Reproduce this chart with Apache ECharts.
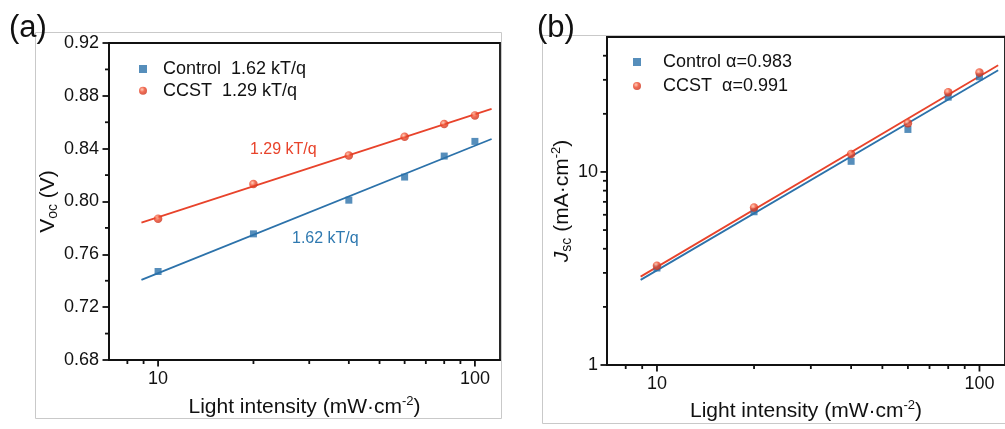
<!DOCTYPE html>
<html>
<head>
<meta charset="utf-8">
<title>Light intensity dependence of Voc and Jsc</title>
<script src="https://cdn.jsdelivr.net/npm/echarts@6/dist/echarts.min.js"></script>
<style>
  html, body { margin: 0; padding: 0; background: #fff; }
  #chart { width: 1005px; height: 429px; }
</style>
</head>
<body>
<div id="chart"></div>
<script>
// Light intensity steps (mW·cm^-2)
const lightIntensity = [10, 20, 40, 60, 80, 100];

// (a) open-circuit voltage (V)
const vocControl = [0.747, 0.7755, 0.801, 0.8185, 0.8344, 0.8455];
const vocCCST = [0.787, 0.8132, 0.8348, 0.849, 0.8586, 0.8652];
// linear fits of Voc vs log(I), drawn between two end points
const vocFitX = [8.86, 112.9];
const vocFitControl = [0.7407, 0.8473];
const vocFitCCST = [0.784, 0.8702];

// (b) short-circuit current density (mA·cm^-2)
const jscControl = [3.18, 6.22, 11.35, 16.6, 24.4, 31.1];
const jscCCST = [3.27, 6.55, 12.4, 17.9, 25.9, 32.7];
// power-law fits J ~ I^alpha
const jscFitX = [8.9, 114.3];
const jscFitControl = [2.76, 33.6];
const jscFitCCST = [2.87, 35.7];

// axis ranges and tick values
const intensityRange = [7, 120];
const vocRange = [0.68, 0.92];
const jscRange = [1, 50];
const intensityTicks = [10, 100];
const intensityMinorTicks = [8, 9, 20, 30, 40, 50, 60, 70, 80, 90];
const vocMinorTicks = [0.70, 0.74, 0.78, 0.82, 0.86, 0.90];
const jscTicks = [1, 10];
const jscMinorTicks = [2, 3, 4, 5, 6, 7, 8, 9, 20, 30, 40];

const FONT = "'Liberation Sans', Arial, Helvetica, sans-serif";
const INK = '#111';
const BLUE = '#2c72aa';
const RED = '#e8432b';
const MAJOR = 6.5;
const MINOR = 4;

const pairs = (xs, ys) => xs.map((x, i) => [x, ys[i]]);

const sphere = {
  type: 'radial', x: 0.38, y: 0.35, r: 0.7,
  colorStops: [
    { offset: 0, color: '#ffc2a8' },
    { offset: 0.45, color: '#ef4a2c' },
    { offset: 1, color: '#c9301a' }
  ]
};

const axisLine = { show: true, onZero: false, lineStyle: { color: INK, width: 1.8 } };
const labelStyle = { color: INK, fontSize: 18, fontFamily: FONT };

const nameRich = {
  m: { fontSize: 21, fontFamily: FONT, color: INK, lineHeight: 24 },
  i: { fontSize: 21, fontFamily: FONT, color: INK, lineHeight: 24, fontStyle: 'italic' },
  sub: { fontSize: 14, fontFamily: FONT, color: INK, lineHeight: 14, verticalAlign: 'bottom' },
  sup: { fontSize: 13, fontFamily: FONT, color: INK, lineHeight: 13, verticalAlign: 'top' }
};
const intensityName = '{m|Light intensity (mW·cm}{sup|-2}{m|)}';

function intensityAxis(gridIndex, nameGap) {
  return {
    type: 'log', gridIndex, min: intensityRange[0], max: intensityRange[1], position: 'bottom',
    name: intensityName, nameLocation: 'middle', nameGap,
    nameTextStyle: { rich: nameRich },
    axisLine,
    axisTick: { show: false },
    axisLabel: { show: true, margin: 10, customValues: intensityTicks, ...labelStyle },
    splitLine: { show: false }, minorTick: { show: false }, minorSplitLine: { show: false }
  };
}

// outward tick marks, placed through the axis scales
function tickSeries(xAxisIndex, yAxisIndex, points, side, len, width) {
  return {
    type: 'custom', xAxisIndex, yAxisIndex, clip: false, silent: true, z: 4,
    data: points,
    renderItem(params, api) {
      const p = api.coord([api.value(0), api.value(1)]);
      const shape = side === 'bottom'
        ? { x1: p[0], y1: p[1], x2: p[0], y2: p[1] + len }
        : { x1: p[0], y1: p[1], x2: p[0] - len, y2: p[1] };
      return { type: 'line', shape, style: { stroke: INK, lineWidth: width } };
    }
  };
}

const chart = echarts.init(document.getElementById('chart'), null, { renderer: 'canvas' });

chart.setOption({
  backgroundColor: '#fff',
  animation: false,
  textStyle: { fontFamily: FONT },
  grid: [
    { left: 109, top: 43, width: 391, height: 317, show: true, borderColor: INK, borderWidth: 1.8, backgroundColor: 'transparent' },
    { left: 607, top: 37, width: 403, height: 328, show: true, borderColor: INK, borderWidth: 1.8, backgroundColor: 'transparent' }
  ],
  xAxis: [intensityAxis(0, 35), intensityAxis(1, 34)],
  yAxis: [
    {
      type: 'value', gridIndex: 0, min: vocRange[0], max: vocRange[1], interval: 0.04,
      name: '{m|V}{sub|oc}{m| (V)}', nameLocation: 'middle', nameGap: 47,
      nameTextStyle: { rich: nameRich },
      axisLine,
      axisTick: { show: true, length: MAJOR, lineStyle: { color: INK, width: 1.8 } },
      minorTick: { show: false },
      axisLabel: { margin: 10, formatter: v => v.toFixed(2), ...labelStyle },
      splitLine: { show: false }, minorSplitLine: { show: false }
    },
    {
      type: 'log', gridIndex: 1, min: jscRange[0], max: jscRange[1], position: 'left',
      name: '{i|J}{sub|sc}{m| (mA·cm}{sup|-2}{m|)}', nameLocation: 'middle', nameGap: 22,
      nameTextStyle: { rich: nameRich },
      axisLine,
      axisTick: { show: false },
      axisLabel: { margin: 9, customValues: jscTicks, ...labelStyle },
      splitLine: { show: false }, minorTick: { show: false }
    }
  ],
  legend: [
    {
      left: 134, top: 54, orient: 'vertical', itemWidth: 8, itemHeight: 8, itemGap: 1.7,
      textStyle: { ...labelStyle, lineHeight: 20, padding: [0, 0, 0, 11] },
      data: [
        { name: 'Control  1.62 kT/q', icon: 'rect' },
        { name: 'CCST  1.29 kT/q', icon: 'circle' }
      ]
    },
    {
      left: 628, top: 47, orient: 'vertical', itemWidth: 8, itemHeight: 8, itemGap: 4,
      textStyle: { ...labelStyle, lineHeight: 20, padding: [0, 0, 0, 17] },
      data: [
        { name: 'Control α=0.983', icon: 'rect' },
        { name: 'CCST  α=0.991', icon: 'circle' }
      ]
    }
  ],
  series: [
    // (a) fits
    { type: 'line', xAxisIndex: 0, yAxisIndex: 0, data: pairs(vocFitX, vocFitControl), symbol: 'none', lineStyle: { color: BLUE, width: 1.8 }, z: 2, silent: true },
    { type: 'line', xAxisIndex: 0, yAxisIndex: 0, data: pairs(vocFitX, vocFitCCST), symbol: 'none', lineStyle: { color: RED, width: 1.8 }, z: 2, silent: true },
    // (a) measurements
    { name: 'Control  1.62 kT/q', type: 'scatter', xAxisIndex: 0, yAxisIndex: 0, data: pairs(lightIntensity, vocControl), symbol: 'rect', symbolSize: 7, itemStyle: { color: BLUE }, z: 3 },
    { name: 'CCST  1.29 kT/q', type: 'scatter', xAxisIndex: 0, yAxisIndex: 0, data: pairs(lightIntensity, vocCCST), symbol: 'circle', symbolSize: 8.5, itemStyle: { color: sphere }, z: 3 },
    // (b) fits
    { type: 'line', xAxisIndex: 1, yAxisIndex: 1, data: pairs(jscFitX, jscFitControl), symbol: 'none', lineStyle: { color: BLUE, width: 1.8 }, z: 2, silent: true },
    { type: 'line', xAxisIndex: 1, yAxisIndex: 1, data: pairs(jscFitX, jscFitCCST), symbol: 'none', lineStyle: { color: RED, width: 1.8 }, z: 2, silent: true },
    // (b) measurements
    { name: 'Control α=0.983', type: 'scatter', xAxisIndex: 1, yAxisIndex: 1, data: pairs(lightIntensity, jscControl), symbol: 'rect', symbolSize: 7, itemStyle: { color: BLUE }, z: 3 },
    { name: 'CCST  α=0.991', type: 'scatter', xAxisIndex: 1, yAxisIndex: 1, data: pairs(lightIntensity, jscCCST), symbol: 'circle', symbolSize: 8.5, itemStyle: { color: sphere }, z: 3 },
    // tick marks of panel (a)
    tickSeries(0, 0, intensityTicks.map(v => [v, vocRange[0]]), 'bottom', MAJOR, 1.8),
    tickSeries(0, 0, intensityMinorTicks.map(v => [v, vocRange[0]]), 'bottom', MINOR, 1.8),
    tickSeries(0, 0, vocMinorTicks.map(v => [intensityRange[0], v]), 'left', MINOR, 1.8),
    // tick marks of panel (b)
    tickSeries(1, 1, intensityTicks.map(v => [v, jscRange[0]]), 'bottom', MAJOR, 1.8),
    tickSeries(1, 1, intensityMinorTicks.map(v => [v, jscRange[0]]), 'bottom', MINOR, 1.8),
    tickSeries(1, 1, jscTicks.map(v => [intensityRange[0], v]), 'left', MAJOR, 1.8),
    tickSeries(1, 1, jscMinorTicks.map(v => [intensityRange[0], v]), 'left', MINOR, 1.8)
  ],
  graphic: [
    // panel frames
    { type: 'rect', shape: { x: 35.5, y: 32.5, width: 466, height: 386 }, style: { fill: 'none', stroke: '#c9c9c9', lineWidth: 1 }, z: -10, silent: true },
    { type: 'rect', shape: { x: 542.5, y: 35.5, width: 480, height: 388 }, style: { fill: 'none', stroke: '#c9c9c9', lineWidth: 1 }, z: -10, silent: true },
    // panel letters
    { type: 'text', style: { x: 9, y: 28, text: '(a)', font: '31px ' + FONT, fill: INK, textVerticalAlign: 'middle' }, z: 10 },
    { type: 'text', style: { x: 537, y: 28, text: '(b)', font: '31px ' + FONT, fill: INK, textVerticalAlign: 'middle' }, z: 10 },
    // slope annotations
    { type: 'text', style: { x: 250, y: 150, text: '1.29 kT/q', font: '16px ' + FONT, fill: RED, textVerticalAlign: 'middle' }, z: 10 },
    { type: 'text', style: { x: 292, y: 239, text: '1.62 kT/q', font: '16px ' + FONT, fill: '#2f79b0', textVerticalAlign: 'middle' }, z: 10 }
  ]
});
</script>
</body>
</html>
